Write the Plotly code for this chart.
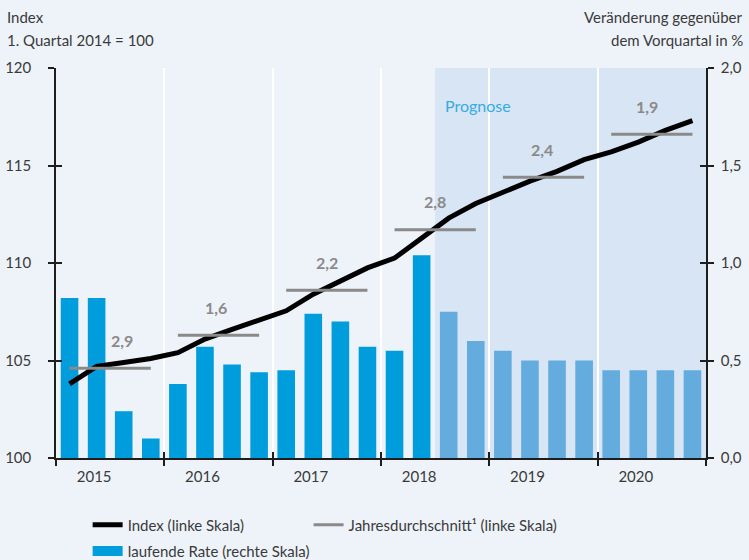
import plotly.graph_objects as go

# Quartale 2015 Q1 bis 2020 Q4
years = [2015, 2016, 2017, 2018, 2019, 2020]
forecast_start = 14  # ab 3. Quartal 2018 Prognose

# laufende Rate, Veraenderung gegenueber Vorquartal in % (rechte Skala)
rate = [0.82, 0.82, 0.24, 0.10,
        0.38, 0.57, 0.48, 0.44,
        0.45, 0.74, 0.70, 0.57,
        0.55, 1.04, 0.75, 0.60,
        0.55, 0.50, 0.50, 0.50,
        0.45, 0.45, 0.45, 0.45]

# Index, 1. Quartal 2014 = 100 (linke Skala)
index = [103.8, 104.7, 104.9, 105.1,
         105.4, 106.1, 106.6, 107.1,
         107.55, 108.4, 109.1, 109.75,
         110.25, 111.3, 112.3, 113.05,
         113.65, 114.2, 114.7, 115.3,
         115.7, 116.2, 116.8, 117.3]

# Jahresdurchschnitt (linke Skala) und Jahresrate in %
year_avg = [104.6, 106.3, 108.6, 111.7, 114.4, 116.6]
year_rate = [2.9, 1.6, 2.2, 2.8, 2.4, 1.9]

FONT = "Lato"
TXT = "#3a3a3a"
AX = "#1e1e1e"
BG = "#eef3fa"
BLUE = "#009ddc"

quarters = list(range(len(rate)))
bar_colors = [BLUE if q < forecast_start else "#64abde" for q in quarters]
boundaries = [4 * i - 0.5 for i in range(len(years) + 1)]
centers = [4 * i + 1.5 for i in range(len(years))]

# Jahresdurchschnitt als Segmente
avg_x, avg_y = [], []
for i, v in enumerate(year_avg):
    avg_x += [4 * i, 4 * i + 3, None]
    avg_y += [v, v, None]

fig = go.Figure()

fig.add_trace(go.Bar(
    x=quarters, y=rate, width=0.65,
    marker=dict(color=bar_colors, line_width=0),
    name="laufende Rate (rechte Skala)", showlegend=False,
    xaxis="x", yaxis="y",
))
fig.add_trace(go.Scatter(
    x=quarters, y=index, mode="lines",
    line=dict(color="black", width=5),
    name="Index (linke Skala)",
    xaxis="x", yaxis="y2", legend="legend",
))
fig.add_trace(go.Scatter(
    x=avg_x, y=avg_y, mode="lines",
    line=dict(color="#8a8a8a", width=3),
    name="Jahresdurchschnitt¹ (linke Skala)",
    xaxis="x", yaxis="y2", legend="legend2",
))
# Legendeneintrag fuer die Saeulen als breiter Balken
fig.add_trace(go.Scatter(
    x=[None], y=[None], mode="lines", line=dict(color=BLUE, width=10),
    name="laufende Rate (rechte Skala)", xaxis="x", yaxis="y", legend="legend3",
))
# leere Spuren, damit die Zusatzachsen (Innenstriche) gezeichnet werden
fig.add_trace(go.Scatter(x=[], y=[], xaxis="x3", yaxis="y3", showlegend=False))
fig.add_trace(go.Scatter(x=[], y=[], xaxis="x3", yaxis="y4", showlegend=False))

# Jahresraten als Beschriftung
label_xshift = [12, -3, 0, 0, -2, -5]
annotations = []
for i, (c, v, r) in enumerate(zip(centers, year_avg, year_rate)):
    annotations.append(dict(
        x=c, y=v, xref="x", yref="y2", yshift=28, xshift=label_xshift[i],
        text="<b>" + f"{r:.1f}".replace(".", ",") + "</b>",
        showarrow=False, font=dict(family=FONT, size=16, color="#8a8a8a"),
    ))

head_font = dict(family=FONT, size=15, color=TXT)
annotations += [
    dict(x=forecast_start - 0.5, y=1, xref="x", yref="paper", yshift=-26, xshift=8,
         text="Prognose", showarrow=False, xanchor="left",
         font=dict(family=FONT, size=16, color="#35ace2")),
    dict(x=-0.079, y=1.131, xref="paper", yref="paper", xanchor="left", yanchor="middle",
         text="Index", showarrow=False, font=head_font),
    dict(x=-0.079, y=1.072, xref="paper", yref="paper", xanchor="left", yanchor="middle",
         text="1. Quartal 2014 = 100", showarrow=False, font=head_font),
    dict(x=1.06, y=1.131, xref="paper", yref="paper", xanchor="right", yanchor="middle",
         text="Veränderung gegenüber", showarrow=False, font=head_font),
    dict(x=1.06, y=1.072, xref="paper", yref="paper", xanchor="right", yanchor="middle",
         text="dem Vorquartal in %", showarrow=False, font=head_font),
]

shapes = [dict(type="rect", xref="x", yref="paper",
               x0=forecast_start - 0.5, x1=len(rate) - 0.5, y0=0, y1=1,
               fillcolor="#d8e5f4", line_width=0, layer="below")]

tick_style = dict(ticklen=6, tickwidth=1.5, tickcolor=AX, automargin=False,
                  showgrid=False, zeroline=False)
legend_style = dict(orientation="h", xref="container", yref="container",
                    xanchor="left", yanchor="top", bgcolor="rgba(0,0,0,0)",
                    font=dict(family=FONT, size=15, color=TXT))

fig.update_layout(
    width=749, height=560,
    margin=dict(l=56, r=43, t=68, b=102),
    paper_bgcolor=BG, plot_bgcolor=BG,
    separators=",.",
    font=dict(family=FONT, size=15, color=TXT),
    showlegend=True,
    legend=dict(x=0.117, y=0.092, **legend_style),
    legend2=dict(x=0.412, y=0.092, **legend_style),
    legend3=dict(x=0.117, y=0.045, **legend_style),
    xaxis=dict(
        range=[-0.5, len(rate) - 0.5], showline=True, linecolor=AX, linewidth=1.5,
        tickmode="array", tickvals=centers, ticktext=[str(y) for y in years],
        ticks="", ticklabelshift=-16, ticklabelstandoff=4, showgrid=False,
        zeroline=False, automargin=False,
        minor=dict(tickmode="array", tickvals=boundaries, ticks="outside", ticklen=6,
                   tickwidth=1.5, tickcolor=AX, showgrid=True, gridcolor="white",
                   gridwidth=2),
    ),
    xaxis3=dict(
        overlaying="x", range=[-0.5, len(rate) - 0.5], tickmode="array",
        tickvals=boundaries, ticks="inside", showticklabels=False, showline=False,
        **tick_style,
    ),
    yaxis=dict(
        side="right", range=[0, 2], tickmode="array", tickvals=[0, 0.5, 1, 1.5, 2],
        tickformat=".1f", ticks="outside", showline=True, linecolor=AX, linewidth=1.5,
        ticklabelstandoff=4, **tick_style,
    ),
    yaxis2=dict(
        overlaying="y", side="left", range=[100, 120], tickmode="array",
        tickvals=[100, 105, 110, 115, 120], ticks="outside", showline=True,
        linecolor=AX, linewidth=1.5, ticklabelstandoff=14, **tick_style,
    ),
    yaxis3=dict(
        overlaying="y", side="right", range=[0, 2], tickmode="array",
        tickvals=[0, 0.5, 1, 1.5, 2], ticks="inside", showticklabels=False,
        showline=False, **tick_style,
    ),
    yaxis4=dict(
        overlaying="y", side="left", range=[100, 120], tickmode="array",
        tickvals=[100, 105, 110, 115, 120], ticks="inside", showticklabels=False,
        showline=False, **tick_style,
    ),
    annotations=annotations,
    shapes=shapes,
)

# Seitenrand des Browsers entfernen, damit die Grafik genau ins Fenster passt
fig.write_html("out.html", config={"displayModeBar": False},
               post_script="document.body.style.margin='0';")
